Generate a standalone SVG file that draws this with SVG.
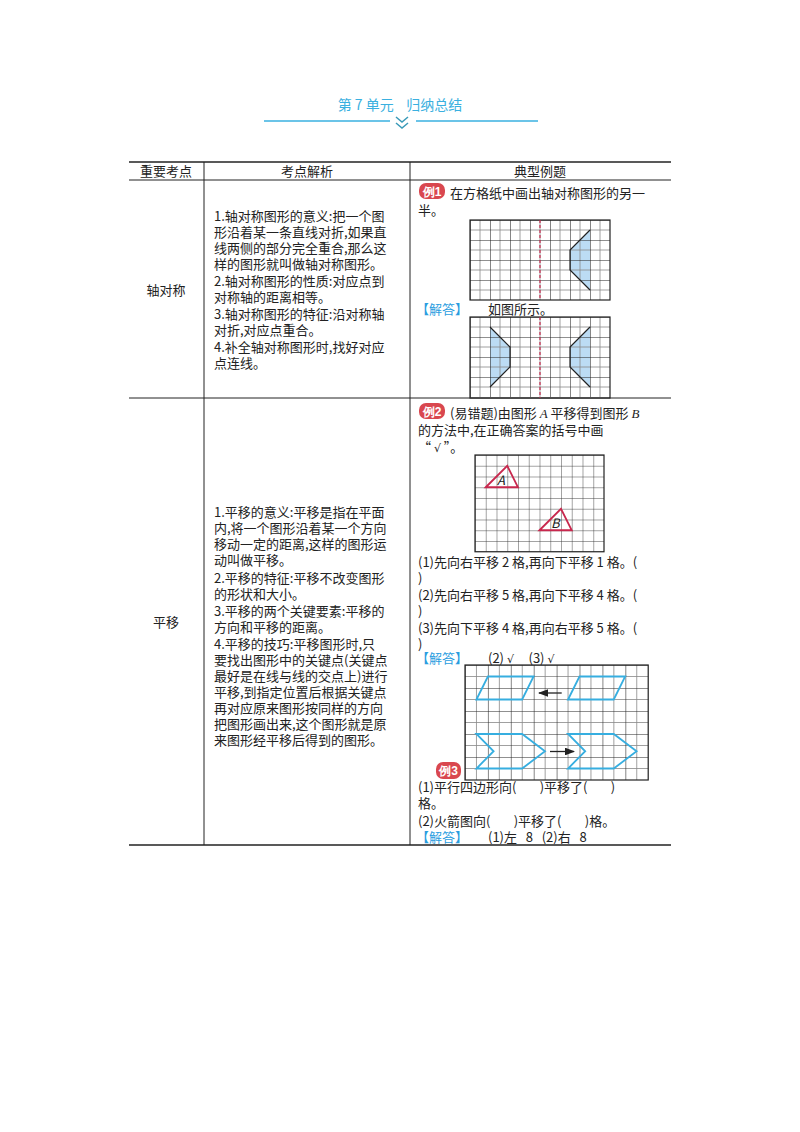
<svg xmlns="http://www.w3.org/2000/svg" width="800" height="1132" viewBox="0 0 800 1132">
<style>
text{font-family:"Noto Sans CJK SC","Liberation Serif",serif;font-size:13px;fill:#222;white-space:pre}
.t{fill:#3ab0e0;font-size:14px}
.b{stroke:#222;stroke-width:1.2;fill:none}
.gk{stroke:#222;stroke-width:1.1}
.ans{fill:#2a9de0}
.badge{fill:#d9474f}
.bt{fill:#fff;font-size:12px;font-weight:bold;font-family:"Liberation Sans",sans-serif}
.red{stroke:#c8284e;stroke-width:1.8;fill:none}
.cy{stroke:#36aee0;stroke-width:1.8;fill:none}
.shape{fill:#bcdcf4;stroke:none}
.sv{font-family:"DejaVu Sans",sans-serif;font-size:11px}
</style>
<defs>
<marker id="ah" markerWidth="8" markerHeight="6" refX="7" refY="3" orient="auto"><path d="M0,0 L8,3 L0,6 z" fill="#222"/></marker>
<pattern id="g1" x="470" y="220" width="20" height="20" patternUnits="userSpaceOnUse"><path d="M10,0V20M0,10H20" stroke="#888" stroke-width="0.8"/><path d="M0,0V20M0,0H20" stroke="#222" stroke-width="1.1"/></pattern>
<pattern id="g2" x="475" y="455" width="10.75" height="10.75" patternUnits="userSpaceOnUse"><path d="M0,0V10.75M0,0H10.75" stroke="#333" stroke-width="0.9"/></pattern>
<pattern id="g3" x="465" y="665" width="22.9" height="23" patternUnits="userSpaceOnUse"><path d="M11.45,0V23M0,11.5H22.9" stroke="#888" stroke-width="0.8"/><path d="M0,0V23M0,0H22.9" stroke="#222" stroke-width="1.1"/></pattern>
</defs>

<g id="title">
<text x="400" y="110" class="t" text-anchor="middle">第 7 单元    归纳总结</text>
<line x1="264" y1="121" x2="390" y2="121" stroke="#3ab0e0" stroke-width="1.3"/>
<line x1="416" y1="121" x2="538" y2="121" stroke="#3ab0e0" stroke-width="1.3"/>
<path d="M396,117 L402,122 L408,117 M396,123 L402,128 L408,123" stroke="#3a9ab8" stroke-width="1.5" fill="none"/>
</g>

<g id="table">
<line x1="129" y1="162" x2="671" y2="162" stroke="#222" stroke-width="1.5"/>
<line x1="129" y1="180" x2="671" y2="180" stroke="#222" stroke-width="1"/>
<line x1="129" y1="398" x2="671" y2="398" stroke="#222" stroke-width="1"/>
<line x1="129" y1="845" x2="671" y2="845" stroke="#222" stroke-width="1.5"/>
<line x1="204" y1="162" x2="204" y2="845" stroke="#222" stroke-width="1"/>
<line x1="410" y1="162" x2="410" y2="845" stroke="#222" stroke-width="1"/>
<text x="166" y="176" text-anchor="middle">重要考点</text>
<text x="307" y="176" text-anchor="middle">考点解析</text>
<text x="540" y="176" text-anchor="middle">典型例题</text>
<text x="166" y="295" text-anchor="middle">轴对称</text>
<text x="166" y="627" text-anchor="middle">平移</text>
</g>

<g id="col2-row1">
<text x="214" y="221">1.轴对称图形的意义:把一个图</text>
<text x="214" y="237">形沿着某一条直线对折,如果直</text>
<text x="214" y="253">线两侧的部分完全重合,那么这</text>
<text x="214" y="269">样的图形就叫做轴对称图形。</text>
<text x="214" y="286">2.轴对称图形的性质:对应点到</text>
<text x="214" y="302">对称轴的距离相等。</text>
<text x="214" y="319">3.轴对称图形的特征:沿对称轴</text>
<text x="214" y="335">对折,对应点重合。</text>
<text x="214" y="352">4.补全轴对称图形时,找好对应</text>
<text x="214" y="368">点连线。</text>
</g>

<g id="col2-row2">
<text x="214" y="517">1.平移的意义:平移是指在平面</text>
<text x="214" y="533">内,将一个图形沿着某一个方向</text>
<text x="214" y="549">移动一定的距离,这样的图形运</text>
<text x="214" y="565">动叫做平移。</text>
<text x="214" y="583">2.平移的特征:平移不改变图形</text>
<text x="214" y="599">的形状和大小。</text>
<text x="214" y="616">3.平移的两个关键要素:平移的</text>
<text x="214" y="632">方向和平移的距离。</text>
<text x="214" y="649">4.平移的技巧:平移图形时,只</text>
<text x="214" y="665">要找出图形中的关键点(关键点</text>
<text x="214" y="681">最好是在线与线的交点上)进行</text>
<text x="214" y="697">平移,到指定位置后根据关键点</text>
<text x="214" y="713">再对应原来图形按同样的方向</text>
<text x="214" y="729">把图形画出来,这个图形就是原</text>
<text x="214" y="745">来图形经平移后得到的图形。</text>
</g>

<g id="ex1">
<rect x="419" y="183" width="26" height="16" rx="7" class="badge"/>
<text x="432" y="196" class="bt" text-anchor="middle">例1</text>
<text x="450" y="198">在方格纸中画出轴对称图形的另一</text>
<text x="418" y="215">半。</text>
<polygon points="570,250 590,230 590,290 570,270" class="shape"/>
<rect x="470" y="220" width="140" height="80" fill="url(#g1)"/>
<rect x="470" y="220" width="140" height="80" class="b"/>
<line x1="540" y1="220" x2="540" y2="300" stroke="#c8284e" stroke-width="1.2" stroke-dasharray="3,2"/>
<polyline points="590,230 570,250 570,270 590,290" class="b" stroke-width="1.5"/>
<text x="416" y="314" class="ans">【解答】</text>
<text x="488" y="314">如图所示。</text>
<g transform="translate(0,97)">
<polygon points="570,250 590,230 590,290 570,270" class="shape"/>
<polygon points="510,250 490,230 490,290 510,270" class="shape"/>
<rect x="470" y="220" width="140" height="80" fill="url(#g1)"/>
<rect x="470" y="220" width="140" height="81" class="b"/>
<line x1="540" y1="220" x2="540" y2="301" stroke="#c8284e" stroke-width="1.2" stroke-dasharray="3,2"/>
<polyline points="590,230 570,250 570,270 590,290" class="b" stroke-width="1.5"/>
<polyline points="490,230 510,250 510,270 490,290" class="b" stroke-width="1.5"/>
</g>
</g>

<g id="ex2">
<rect x="419" y="403" width="26" height="16" rx="7" class="badge"/>
<text x="432" y="416" class="bt" text-anchor="middle">例2</text>
<text x="450" y="418">(易错题)由图形 <tspan font-style="italic" font-family="Liberation Serif">A</tspan> 平移得到图形 <tspan font-style="italic" font-family="Liberation Serif">B</tspan></text>
<text x="418" y="435">的方法中,在正确答案的括号中画</text>
<text x="418" y="452">“ <tspan class="sv">√</tspan> ”。</text>
<rect x="475" y="455" width="129" height="96.75" fill="url(#g2)"/>
<rect x="475" y="455" width="129" height="96.75" class="b"/>
<polygon points="485.75,487.25 507.25,465.75 518,487.25" class="red"/>
<text x="497" y="485" font-size="10" font-style="italic" font-family="Liberation Serif">A</text>
<polygon points="539.5,530.25 561,508.75 571.75,530.25" class="red"/>
<text x="551" y="528" font-size="10" font-style="italic" font-family="Liberation Serif">B</text>
<text x="418" y="567">(1)先向右平移 2 格,再向下平移 1 格。(</text>
<text x="418" y="583">)</text>
<text x="418" y="600">(2)先向右平移 5 格,再向下平移 4 格。(</text>
<text x="418" y="616">)</text>
<text x="418" y="633">(3)先向下平移 4 格,再向右平移 5 格。(</text>
<text x="418" y="649">)</text>
<text x="416" y="663" class="ans">【解答】</text>
<text x="488" y="663">(2) <tspan class="sv">√</tspan>     (3) <tspan class="sv">√</tspan></text>
</g>

<g id="ex3">
<rect x="465" y="665" width="183.2" height="115" fill="url(#g3)"/>
<rect x="465" y="665" width="183.2" height="115" class="b"/>
<polygon points="476.45,699.5 487.9,676.5 533.6,676.5 522.15,699.5" class="cy"/>
<polygon points="568.05,699.5 579.5,676.5 625.2,676.5 613.75,699.5" class="cy"/>
<polygon points="476.45,734 522.15,734 545,751.25 522.15,768.5 476.45,768.5 493.6,751.25" class="cy"/>
<polygon points="568.05,734 613.75,734 636.6,751.25 613.75,768.5 568.05,768.5 585.2,751.25" class="cy"/>
<line x1="561.7" y1="693" x2="539" y2="693" stroke="#222" stroke-width="1.3" marker-end="url(#ah)"/>
<line x1="550" y1="751.5" x2="574" y2="751.5" stroke="#222" stroke-width="1.3" marker-end="url(#ah)"/>
<rect x="436" y="762" width="25" height="17" rx="7" class="badge"/>
<text x="448.5" y="775" class="bt" text-anchor="middle">例3</text>
<text x="418" y="792">(1)平行四边形向(        )平移了(        )</text>
<text x="418" y="808">格。</text>
<text x="418" y="826">(2)火箭图向(        )平移了(        )格。</text>
<text x="416" y="842" class="ans">【解答】</text>
<text x="488" y="842">(1)左   8   (2)右   8</text>
</g>
</svg>
